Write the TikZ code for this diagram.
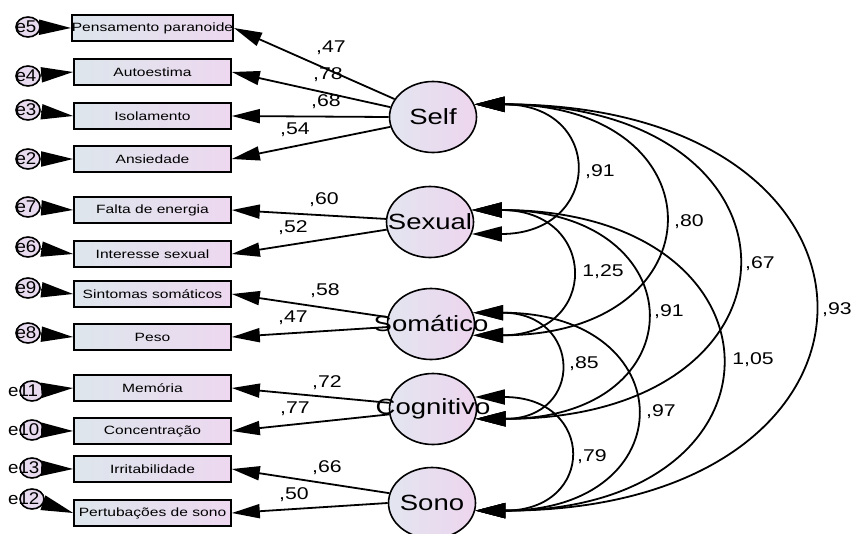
\documentclass[tikz,border=0pt]{standalone}
\usepackage{fontspec}
\setmainfont{Liberation Sans}
\usepackage{graphicx}
\usetikzlibrary{shapes.geometric,arrows.meta}
\definecolor{boxL}{HTML}{DDE6EC}
\definecolor{boxR}{HTML}{EDD8F0}
\definecolor{circL}{HTML}{E3E5F0}
\definecolor{circR}{HTML}{EDD5EE}
\newcommand{\hs}[2][1.25]{\scalebox{#1}[1]{#2}}
\begin{document}
\begin{tikzpicture}[x=1pt,y=-1pt,
 ind/.style={rectangle,draw,line width=1.6pt,minimum width=157pt,minimum height=26pt,inner sep=0pt,left color=boxL,right color=boxR,font=\fontsize{12}{13}\selectfont},
 lat/.style={ellipse,draw,line width=1.6pt,minimum width=87pt,minimum height=71pt,inner sep=0pt,left color=circL,right color=circR},
 lattext/.style={inner sep=0pt,font=\fontsize{22}{24}\selectfont},
 err/.style={ellipse,draw,line width=1.6pt,minimum width=24pt,minimum height=20pt,inner sep=0pt,fill=circL!40!circR},
 elab/.style={font=\fontsize{17}{18}\selectfont,inner sep=0pt},
 num/.style={font=\fontsize{17}{18}\selectfont,inner sep=0pt},
 load/.style={line width=1.8pt,-{Triangle[length=28pt,width=14pt]}},
 eload/.style={line width=1.8pt,-{Triangle[length=32pt,width=15pt]}},
 cov/.style={line width=1.8pt,{Triangle[length=30pt,width=15pt]}-{Triangle[length=30pt,width=15pt]}},
]
\useasboundingbox (0,0) rectangle (853,533);
\clip (0,0) rectangle (853,533);

% indicators
\node[ind] (b1) at (152.5,28) {\hs[1.3]{Pensamento paranoide}};
\node[ind] (b2) at (152.5,72) {\hs[1.3]{Autoestima}};
\node[ind] (b3) at (152.5,116) {\hs[1.3]{Isolamento}};
\node[ind] (b4) at (152.5,159) {\hs[1.3]{Ansiedade}};
\node[ind] (b5) at (152.5,210) {\hs[1.3]{Falta de energia}};
\node[ind] (b6) at (152.5,254) {\hs[1.3]{Interesse sexual}};
\node[ind] (b7) at (152.5,294) {\hs[1.3]{Sintomas somáticos}};
\node[ind] (b8) at (152.5,337) {\hs[1.3]{Peso}};
\node[ind] (b9) at (152.5,388) {\hs[1.3]{Memória}};
\node[ind] (b10) at (152.5,431) {\hs[1.3]{Concentração}};
\node[ind] (b11) at (152.5,469) {\hs[1.3]{Irritabilidade}};
\node[ind] (b12) at (152.5,513) {\hs[1.3]{Pertubações de sono}};

% error terms
\node[err] (c5) at (28,27) {};
\node[err] (c4) at (28,76) {};
\node[err] (c3) at (28,110) {};
\node[err] (c2) at (28,159) {};
\node[err] (c7) at (28,207) {};
\node[err] (c6) at (28,247) {};
\node[err] (c9) at (28,288) {};
\node[err] (c8) at (28,333) {};
\node[err] (c11) at (32,391) {};
\node[err] (c10) at (32,430) {};
\node[err] (c13) at (32,468) {};
\node[err] (c12) at (32,499) {};
\node[elab] (l5) at (26,27) {\hs[1.1]{e5}};
\node[elab] (l4) at (26,76) {\hs[1.1]{e4}};
\node[elab] (l3) at (26,110) {\hs[1.1]{e3}};
\node[elab] (l2) at (26,159) {\hs[1.1]{e2}};
\node[elab] (l7) at (26,207) {\hs[1.1]{e7}};
\node[elab] (l6) at (26,247) {\hs[1.1]{e6}};
\node[elab] (l9) at (26,288) {\hs[1.1]{e9}};
\node[elab] (l8) at (26,333) {\hs[1.1]{e8}};
\node[elab,anchor=west] (l11) at (8,391) {\hs[1.1]{e11}};
\node[elab,anchor=west] (l10) at (8,430) {\hs[1.1]{e10}};
\node[elab,anchor=west] (l13) at (8,468) {\hs[1.1]{e13}};
\node[elab,anchor=west] (l12) at (8,499) {\hs[1.1]{e12}};

\draw[eload] (c5) -- (b1.west);
\draw[eload] (c4) -- (b2.west);
\draw[eload] (c3) -- (b3.west);
\draw[eload] (c2) -- (b4.west);
\draw[eload] (c7) -- (b5.west);
\draw[eload] (c6) -- (b6.west);
\draw[eload] (c9) -- (b7.west);
\draw[eload] (c8) -- (b8.west);
\draw[eload] (c11) -- (b9.west);
\draw[eload] (c10) -- (b10.west);
\draw[eload] (c13) -- (b11.west);
\draw[eload] (c12) -- (b12.west);

% latents
\node[lat] (self) at (433,117) {};
\node[lat] (sexual) at (430,222) {};
\node[lat] (soma) at (431,324) {};
\node[lat] (cog) at (433,409) {};
\node[lat] (sono) at (432,503) {};
\node[lattext] (tself) at (433,117) {\hs{Self}};
\node[lattext] (tsexual) at (430,222) {\hs{Sexual}};
\node[lattext] (tsoma) at (431,324) {\hs{Somático}};
\node[lattext] (tcog) at (433,409) {\hs{Cognitivo}};
\node[lattext] (tsono) at (432,503) {\hs{Sono}};

% loadings
\draw[load] (self.155) -- (b1.east);
\draw[load] (self.167) -- (b2.east);
\draw[load] (self.180) -- (b3.east);
\draw[load] (self.193) -- (b4.east);
\draw[load] (sexual.176) -- (b5.east);
\draw[load] (sexual.190) -- (b6.east);
\draw[load] (soma.171) -- (b7.east);
\draw[load] (soma.184) -- (b8.east);
\draw[load] (cog.172) -- (b9.east);
\draw[load] (cog.187) -- (b10.east);
\draw[load] (sono.167) -- (b11.east);
\draw[load] (sono.180) -- (b12.east);

\node[num] (n1) at (331,48) {\hs{,47}};
\node[num] (n2) at (328,75) {\hs{,78}};
\node[num] (n3) at (326,102) {\hs{,68}};
\node[num] (n4) at (295,130) {\hs{,54}};
\node[num] (n5) at (324,200) {\hs{,60}};
\node[num] (n6) at (293,228) {\hs{,52}};
\node[num] (n7) at (325,291) {\hs{,58}};
\node[num] (n8) at (293,318) {\hs{,47}};
\node[num] (n9) at (327,383) {\hs{,72}};
\node[num] (n10) at (295,409) {\hs{,77}};
\node[num] (n11) at (327,468) {\hs{,66}};
\node[num] (n12) at (294,495) {\hs{,50}};

% covariances
\draw[cov] (self.17) .. controls +(131,0) and +(131,0) .. (sexual.-16);
\draw[cov] (self.17) .. controls +(249,0) and +(249,0) .. (soma.-15);
\draw[cov] (self.17) .. controls +(345,0) and +(345,0) .. (cog.-13);
\draw[cov] (self.17) .. controls +(447,0) and +(447,0) .. (sono.-10);
\draw[cov] (sexual.16) .. controls +(127,0) and +(127,0) .. (soma.-15);
\draw[cov] (sexual.16) .. controls +(225,0) and +(225,0) .. (cog.-13);
\draw[cov] (sexual.16) .. controls +(325,0) and +(325,0) .. (sono.-10);
\draw[cov] (soma.15) .. controls +(109,0) and +(109,0) .. (cog.-13);
\draw[cov] (soma.15) .. controls +(211,0) and +(211,0) .. (sono.-10);
\draw[cov] (cog.16) .. controls +(121,0) and +(121,0) .. (sono.-10);

\node[num] (r1) at (600,172) {\hs{,91}};
\node[num] (r2) at (689,222) {\hs{,80}};
\node[num] (r3) at (760,264) {\hs{,67}};
\node[num] (r4) at (837,310) {\hs{,93}};
\node[num] (r5) at (603,272) {\hs{1,25}};
\node[num] (r6) at (669,312) {\hs{,91}};
\node[num] (r7) at (753,360) {\hs{1,05}};
\node[num] (r8) at (584,364) {\hs{,85}};
\node[num] (r9) at (661,412) {\hs{,97}};
\node[num] (r10) at (592,457) {\hs{,79}};
\end{tikzpicture}
\end{document}
